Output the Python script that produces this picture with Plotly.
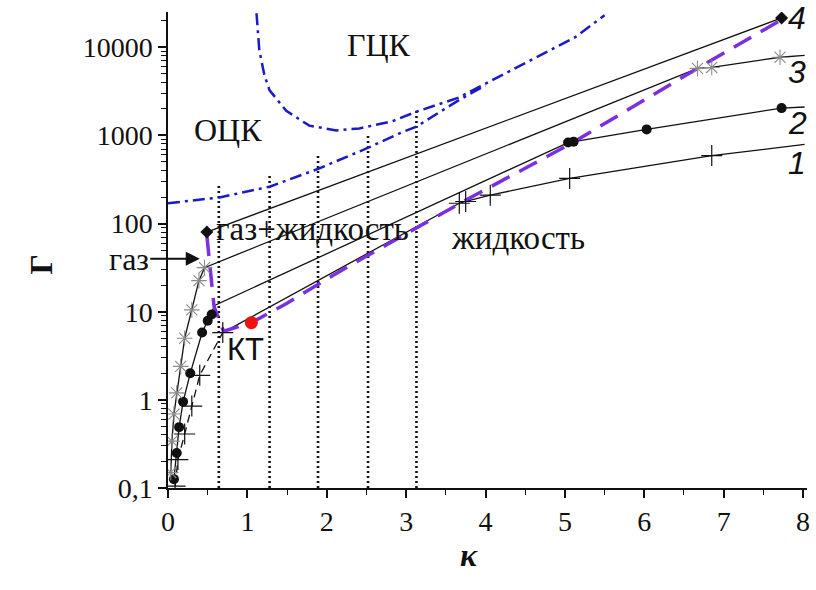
import math
import plotly.graph_objects as go

# ---- curve 1 (crosses): steep gas branch and fluid branch ----
k1_steep = [0.09, 0.125, 0.21, 0.30, 0.40, 0.69]
g1_steep = [0.105, 0.21, 0.41, 0.85, 1.9, 5.8]
k1_fluid = [0.69, 3.67, 3.75, 4.06, 5.06, 6.85, 8.02]
g1_fluid = [5.8, 170, 178, 210, 325, 590, 790]
k1_marks = [0.09, 0.125, 0.21, 0.30, 0.40, 0.69, 3.67, 3.75, 4.06, 5.06, 6.85]
g1_marks = [0.105, 0.21, 0.41, 0.85, 1.9, 5.8, 170, 178, 210, 325, 590]

# ---- curve 2 (filled circles) ----
k2 = [0.075, 0.11, 0.14, 0.19, 0.28, 0.43, 0.50, 0.55, 0.58, 5.04, 5.11, 6.03, 7.73, 8.02]
g2 = [0.126, 0.25, 0.49, 0.95, 2.0, 5.8, 7.9, 9.3, 11.7, 830, 850, 1170, 2040, 2100]
k2_marks = [0.075, 0.11, 0.14, 0.19, 0.28, 0.43, 0.50, 0.55, 5.04, 5.11, 6.03, 7.73]
g2_marks = [0.126, 0.25, 0.49, 0.95, 2.0, 5.8, 7.9, 9.3, 830, 850, 1170, 2040]

# ---- curve 3 (asterisks) ----
k3 = [0.035, 0.05, 0.075, 0.11, 0.16, 0.21, 0.30, 0.39, 0.46, 6.67, 6.85, 7.71, 8.02]
g3 = [0.15, 0.34, 0.69, 1.2, 2.4, 5.0, 10.5, 22.5, 31.6, 5760, 5900, 7700, 8100]
k3_marks = [0.035, 0.05, 0.075, 0.11, 0.16, 0.21, 0.30, 0.39, 0.46, 6.67, 6.85, 7.71]
g3_marks = [0.15, 0.34, 0.69, 1.2, 2.4, 5.0, 10.5, 22.5, 31.6, 5760, 5900, 7700]

# ---- curve 4 (diamonds) ----
k4 = [0.49, 7.73]
g4 = [80, 21500]

# ---- melting line through the break points ----
k_melt = [0.49, 0.53, 0.58, 0.70, 1.05, 1.5, 2.2, 3.72, 5.08, 6.67, 7.73]
g_melt = [72, 31, 11.5, 6.0, 7.5, 12.5, 30, 178, 810, 5760, 20600]

# ---- critical point ----
k_cp = [1.05]
g_cp = [7.5]

# ---- bcc / fcc boundaries ----
k_fcc = [1.115, 1.15, 1.215, 1.28, 1.49, 1.78, 2.12, 2.41, 2.82, 3.13, 3.66, 4.0, 4.57, 5.13, 5.50]
g_fcc = [24300, 9300, 4800, 3250, 1900, 1290, 1140, 1200, 1440, 1860, 2680, 3870, 7100, 13000, 23000]
k_bcc = [0.0, 0.65, 1.28, 1.90, 2.53, 2.91, 3.13, 3.66, 4.0]
g_bcc = [170, 198, 262, 420, 730, 1050, 1260, 2500, 3700]

# ---- vertical dotted isochores ----
k_dotted = [0.64, 1.28, 1.89, 2.52, 3.13]
g_dotted_top = [270, 370, 590, 1050, 2030]

y_ticks = [0.1, 1, 10, 100, 1000, 10000]
y_ticktext = ["0,1", "1", "10", "100", "1000", "10000"]
y_minor = [m * 10 ** e for e in range(-1, 5) for m in range(2, 10)]

BLACK = "#111111"
BLUE = "#1a1ac8"
PURPLE = "#7a2fe0"
SERIF = "Liberation Serif, Times New Roman, serif"
SANS = "Liberation Sans, Arial, sans-serif"

fig = go.Figure()

for kx, gtop in zip(k_dotted, g_dotted_top):
    fig.add_trace(go.Scatter(x=[kx, kx], y=[0.1, gtop], mode="lines",
                             line=dict(color=BLACK, width=2.6, dash="2px,3px")))

fig.add_trace(go.Scatter(x=k_fcc, y=g_fcc, mode="lines",
                         line=dict(color=BLUE, width=2.5, dash="12px,5px,3px,5px")))
fig.add_trace(go.Scatter(x=k_bcc, y=g_bcc, mode="lines",
                         line=dict(color=BLUE, width=2.5, dash="12px,5px,3px,5px")))

fig.add_trace(go.Scatter(x=k1_steep, y=g1_steep, mode="lines",
                         line=dict(color=BLACK, width=1.3, dash="8px,5px")))
fig.add_trace(go.Scatter(x=k1_fluid, y=g1_fluid, mode="lines",
                         line=dict(color=BLACK, width=1.3)))
fig.add_trace(go.Scatter(x=k2, y=g2, mode="lines", line=dict(color=BLACK, width=1.3)))
fig.add_trace(go.Scatter(x=k3, y=g3, mode="lines", line=dict(color=BLACK, width=1.3)))
fig.add_trace(go.Scatter(x=k4, y=g4, mode="lines", line=dict(color=BLACK, width=1.3)))

fig.add_trace(go.Scatter(x=k_melt, y=g_melt, mode="lines",
                         line=dict(color=PURPLE, width=3.5, dash="20px,11px")))

fig.add_trace(go.Scatter(x=k1_marks, y=g1_marks, mode="markers",
                         marker=dict(symbol="cross-thin", size=15, color=BLACK,
                                     line=dict(color=BLACK, width=1.2))))
fig.add_trace(go.Scatter(x=k2_marks, y=g2_marks, mode="markers",
                         marker=dict(symbol="circle", size=10, color=BLACK)))
fig.add_trace(go.Scatter(x=k3_marks, y=g3_marks, mode="markers",
                         marker=dict(symbol="asterisk", size=13, color="#8a8a8a",
                                     line=dict(color="#8a8a8a", width=1.1))))
fig.add_trace(go.Scatter(x=k4, y=g4, mode="markers",
                         marker=dict(symbol="diamond", size=10, color=BLACK)))
fig.add_trace(go.Scatter(x=k_cp, y=g_cp, mode="markers",
                         marker=dict(symbol="circle", size=13, color="#ee1111")))


def label(x, y, text, size, font=SERIF, color=BLACK, **kw):
    fig.add_annotation(x=x, y=math.log10(y), text=text, showarrow=False,
                       xanchor="center", yanchor="middle",
                       font=dict(family=font, size=size, color=color), **kw)


label(2.66, 10500, "ГЦК", 32)
label(0.75, 1150, "ОЦК", 32)
label(1.82, 87, "газ+жидкость", 33)
label(4.41, 68, "жидкость", 33)
label(0.98, 3.7, "КТ", 31, font=SANS)
label(7.93, 21500, "<i>4</i>", 32, font=SANS)
label(7.93, 5300, "<i>3</i>", 32, font=SANS)
label(7.93, 1400, "<i>2</i>", 32, font=SANS)
label(7.93, 490, "<i>1</i>", 32, font=SANS)

# gas arrow pointing at the level of the gas branch
fig.add_annotation(x=0.4, y=math.log10(40), ax=-71, ay=0, text="газ",
                   showarrow=True, arrowhead=2, arrowsize=1.4, arrowwidth=2,
                   arrowcolor=BLACK, font=dict(family=SERIF, size=32, color=BLACK))

# axis titles
fig.add_annotation(xref="paper", yref="paper", x=(470 - 168) / 642, y=(590 - 102 - 555) / 476,
                   text="<b><i>κ</i></b>", showarrow=False, xanchor="center", yanchor="middle",
                   font=dict(family=SERIF, size=32, color=BLACK))
fig.add_annotation(xref="paper", yref="paper", x=(40 - 168) / 642, y=(488 - 265) / 476,
                   text="<b>Г</b>", showarrow=False, xanchor="center", yanchor="middle",
                   textangle=-90, font=dict(family=SERIF, size=32, color=BLACK))

fig.update_layout(
    width=816, height=590,
    margin=dict(l=168, r=6, t=12, b=102),
    paper_bgcolor="white", plot_bgcolor="white",
    showlegend=False,
    xaxis=dict(range=[0, 8.05], showgrid=False, zeroline=False,
               showline=True, linecolor=BLACK, linewidth=1.5,
               ticks="outside", ticklen=8, tickwidth=1.5, tickcolor=BLACK,
               tickvals=[0, 1, 2, 3, 4, 5, 6, 7, 8],
               minor=dict(ticks="outside", ticklen=5, tickwidth=1.2,
                          tickcolor=BLACK, dtick=0.5, showgrid=False),
               tickfont=dict(family=SERIF, size=28, color=BLACK)),
    yaxis=dict(type="log", range=[-1, 4.4], showgrid=False, zeroline=False,
               showline=True, linecolor=BLACK, linewidth=1.5,
               ticks="outside", ticklen=8, tickwidth=1.5, tickcolor=BLACK,
               tickvals=y_ticks, ticktext=y_ticktext,
               minor=dict(ticks="outside", ticklen=5, tickwidth=1,
                          tickcolor=BLACK, tickvals=y_minor, showgrid=False),
               tickfont=dict(family=SERIF, size=28, color=BLACK)),
)

fig.write_html("out.html")
